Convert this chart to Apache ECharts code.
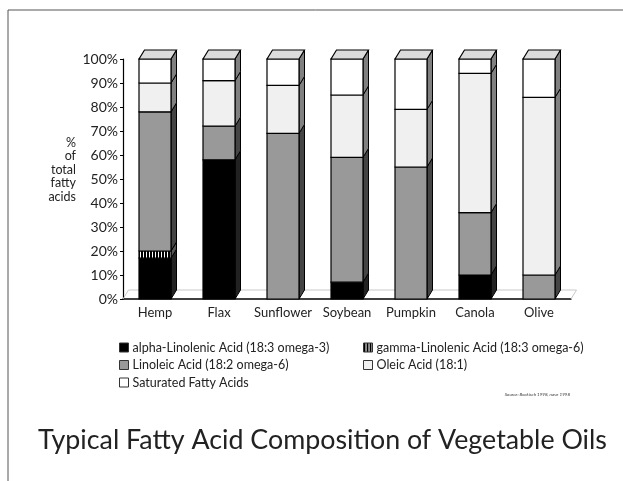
<!DOCTYPE html>
<html>
<head>
<meta charset="utf-8">
<script src="https://cdn.jsdelivr.net/npm/echarts@6/dist/echarts.min.js"></script>
<style>
html, body { margin: 0; padding: 0; background: #fff; }
#chart { width: 623px; height: 481px; }
</style>
</head>
<body>
<div id="chart"></div>
<script>
// Data (percent of total fatty acids)
var oils = ['Hemp', 'Flax', 'Sunflower', 'Soybean', 'Pumpkin', 'Canola', 'Olive'];
var alphaLinolenic = [17, 58, 0, 7, 0, 10, 0];
var gammaLinolenic = [3, 0, 0, 0, 0, 0, 0];
var linoleic = [58, 14, 69, 52, 55, 26, 10];
var oleic = [12, 19, 20, 26, 24, 58, 74];
var saturated = [10, 9, 11, 15, 21, 6, 16];

var font = 'Lato';
var dx = 5.5, dy = 9;           // depth of the 3d boxes
var gridLeft = 123, gridRight = 52, gridTop = 59, gridBottom = 182;

// Striped fill for gamma-Linolenic
var stripe = document.createElement('canvas');
stripe.width = 3; stripe.height = 3;
var sctx = stripe.getContext('2d');
sctx.fillStyle = '#fff'; sctx.fillRect(0, 0, 3, 3);
sctx.fillStyle = '#000'; sctx.fillRect(0, 0, 2, 3);
var stripeFill = { image: stripe, repeat: 'repeat' };

var layers = [
  { name: 'alpha-Linolenic Acid (18:3 omega-3)', values: alphaLinolenic, fill: '#000', side: '#222' },
  { name: 'gamma-Linolenic Acid (18:3 omega-6)', values: gammaLinolenic, fill: stripeFill, side: '#555' },
  { name: 'Linoleic Acid (18:2 omega-6)', values: linoleic, fill: '#999', side: '#444' },
  { name: 'Oleic Acid (18:1)', values: oleic, fill: '#f0f0f0', side: '#808080' },
  { name: 'Saturated Fatty Acids', values: saturated, fill: '#fff', side: '#808080' }
];

// Draws one stacked segment as a box with a front, a side and (for the top one) a lid
function renderBox(fill, side) {
  return function (params, api) {
    var i = api.value(0), lo = api.value(1), hi = api.value(2);
    if (hi <= lo) return;
    var a = api.coord([i, lo]);
    var b = api.coord([i, hi]);
    var w = api.size([1, 0])[0] * 0.5;
    var xl = a[0] - w / 2, xr = a[0] + w / 2;
    var children = [
      {
        type: 'polygon',
        shape: { points: [[xr, a[1]], [xr + dx, a[1] - dy], [xr + dx, b[1] - dy], [xr, b[1]]] },
        style: { fill: side, stroke: '#000', lineWidth: 1 }
      },
      {
        type: 'rect',
        shape: { x: xl, y: b[1], width: w, height: a[1] - b[1] },
        style: { fill: fill, stroke: '#000', lineWidth: 1.2 }
      }
    ];
    if (hi >= 99.5) {
      children.push({
        type: 'polygon',
        shape: { points: [[xl, b[1]], [xl + dx, b[1] - dy], [xr + dx, b[1] - dy], [xr, b[1]]] },
        style: { fill: '#dcdcdc', stroke: '#000', lineWidth: 1.2 }
      });
    }
    return { type: 'group', children: children };
  };
}

var bottoms = oils.map(function () { return 0; });
var series = layers.map(function (layer) {
  var data = layer.values.map(function (v, i) {
    var item = [i, bottoms[i], bottoms[i] + v];
    bottoms[i] += v;
    return item;
  });
  return {
    type: 'custom',
    name: layer.name,
    itemStyle: { color: layer.fill },
    encode: { x: 0, y: [1, 2] },
    renderItem: renderBox(layer.fill, layer.side),
    data: data,
    z: 3
  };
});

var chart = echarts.init(document.getElementById('chart'));

var floorY = 481 - gridBottom;
var floorR = 623 - gridRight;

var legendBase = {
  orient: 'vertical',
  itemWidth: 9, itemHeight: 9, itemGap: 4.5,
  icon: 'rect',
  itemStyle: { borderColor: '#333', borderWidth: 1 },
  textStyle: { fontFamily: font, fontSize: 12.5, color: '#222', padding: [0, 0, 0, -1] },
  selectedMode: false
};

chart.setOption({
  animation: false,
  textStyle: { fontFamily: font },
  title: {
    text: 'Typical Fatty Acid Composition of Vegetable Oils',
    left: 33,
    top: 422,
    textStyle: { fontFamily: font, fontSize: 26.8, fontWeight: 'normal', color: '#222' }
  },
  grid: { left: gridLeft, right: gridRight, top: gridTop, bottom: gridBottom },
  legend: [
    Object.assign({}, legendBase, {
      data: [layers[0].name, layers[2].name, layers[4].name],
      left: 114, top: 336
    }),
    Object.assign({}, legendBase, {
      data: [layers[1].name, layers[3].name],
      left: 358, top: 336
    })
  ],
  xAxis: {
    type: 'category',
    data: oils,
    axisLine: { lineStyle: { color: '#000', width: 1.5 } },
    axisTick: { show: false },
    axisLabel: { interval: 0, fontFamily: font, fontSize: 13, color: '#222', margin: 7 }
  },
  yAxis: {
    type: 'value',
    min: 0, max: 100, interval: 10,
    axisLine: { show: true, lineStyle: { color: '#000', width: 1.2 } },
    axisTick: { show: true, length: 3, lineStyle: { color: '#000' } },
    splitLine: { show: false },
    axisLabel: { formatter: '{value}%', fontFamily: font, fontSize: 14, color: '#222', margin: 5 }
  },
  graphic: [
    { type: 'line', shape: { x1: 8, y1: 10, x2: 623, y2: 10 }, style: { stroke: '#555', lineWidth: 1 } },
    { type: 'line', shape: { x1: 8, y1: 10, x2: 8, y2: 481 }, style: { stroke: '#555', lineWidth: 1 } },
    {
      type: 'polyline', z: 1,
      shape: { points: [[gridLeft, floorY], [gridLeft + dx, floorY - dy], [floorR + dx, floorY - dy], [floorR, floorY]] },
      style: { stroke: '#c8c8c8', lineWidth: 1, fill: null }
    },
    {
      type: 'text', x: 76, y: 136,
      style: {
        text: '%\nof\ntotal\nfatty\nacids',
        align: 'right', verticalAlign: 'top',
        font: '12.5px ' + font, fill: '#222', lineHeight: 13.5
      }
    },
    {
      type: 'text', x: 570, y: 392,
      style: { text: 'Source: Bockisch 1998, nave 1998', align: 'right', font: 'italic 4.5px ' + font, fill: '#333' }
    }
  ],
  series: series
});
</script>
</body>
</html>
